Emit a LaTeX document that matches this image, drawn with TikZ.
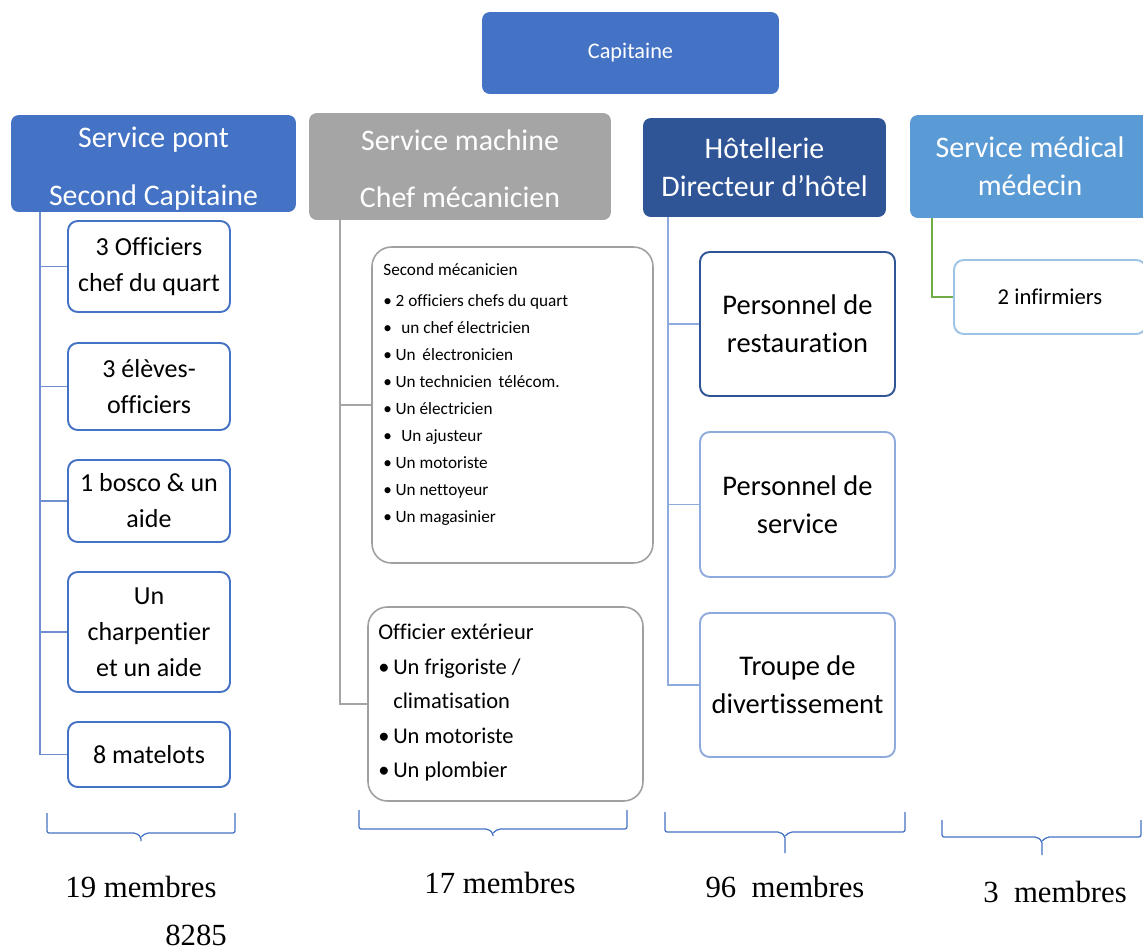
\documentclass[tikz,border=0pt]{standalone}
\usepackage{fontspec}
\setmainfont{Liberation Serif}
\newfontfamily\carl[Ligatures=NoCommon]{Carlito}
\usetikzlibrary{calc}
\definecolor{cBlue}{HTML}{4472C4}
\definecolor{cGray}{HTML}{A5A5A5}
\definecolor{cNavy}{HTML}{2F5597}
\definecolor{cSky}{HTML}{5B9BD5}
\definecolor{cPale}{HTML}{8FAADC}
\definecolor{cPaleSky}{HTML}{9DC3E6}
\definecolor{cGreen}{HTML}{70AD47}
\definecolor{cLink}{HTML}{6F8FD0}
\definecolor{cGrayLine}{HTML}{A0A0A0}
\begin{document}
\begin{tikzpicture}[x=0.02cm,y=-0.02cm,
  hdr/.style={rounded corners=4.5pt, text=white, inner sep=0pt, align=center},
  hdrtext/.style={text=white, inner sep=0pt, align=center},
  leaf/.style={draw, fill=white, line width=1.1pt, rounded corners=5.5pt, inner sep=0pt, align=center},
  listbox/.style={draw=cGrayLine, fill=white, line width=0.9pt, rounded corners=11pt, inner sep=0pt},
  link/.style={line width=1pt},
  brace/.style={draw=cBlue, line width=0.7pt, rounded corners=1.2pt},
  count/.style={font=\fontsize{17.5}{20}\selectfont, inner sep=0pt}
]
\useasboundingbox (0,0) rectangle (1143,951);
\clip (0,0) rectangle (1143,951);

% top of the hierarchy
\node[hdr, fill=cBlue, minimum width=5.94cm, minimum height=1.64cm,
      font=\carl\fontsize{12.7}{15}\selectfont] (cap) at (630.5,53) {Capitaine};

% the four services
\node[hdr, fill=cBlue, minimum width=5.70cm, minimum height=1.94cm] (pont) at (153.5,163.5) {};
\node[hdrtext, font=\carl\fontsize{17}{33}\selectfont] (ponttxt) at ($(pont.center)+(0,5)$)
      {Service pont\\Second Capitaine};
\node[hdr, fill=cGray, minimum width=6.04cm, minimum height=2.14cm] (mach) at (460,166.5) {};
\node[hdrtext, font=\carl\fontsize{17}{32.4}\selectfont] (machtxt) at ($(mach.center)+(0,2)$)
      {Service machine\\Chef mécanicien};
\node[hdr, fill=cNavy, minimum width=4.86cm, minimum height=1.98cm,
      font=\carl\fontsize{17}{21.6}\selectfont] (hotel) at (764.5,167.5)
      {Hôtellerie\\Directeur d’hôtel};
\node[hdr, fill=cSky, minimum width=4.80cm, minimum height=2.06cm,
      font=\carl\fontsize{17}{21.6}\selectfont] (med) at (1030,166.5)
      {Service médical\\médecin};

% deck service
\begin{scope}[every node/.style={leaf, draw=cBlue, minimum width=3.24cm,
      font=\carl\fontsize{14.8}{20.5}\selectfont}]
\node[minimum height=1.82cm] (off) at (149,266.5) {3 Officiers\\chef du quart};
\node[minimum height=1.74cm] (eleve) at (149,386.5) {3 élèves-\\officiers};
\node[minimum height=1.64cm] (bosco) at (149,501) {1 bosco \& un\\aide};
\node[minimum height=2.40cm] (charp) at (149,632) {Un\\charpentier\\et un aide};
\node[minimum height=1.30cm] (mat) at (149,754.5) {8 matelots};
\end{scope}
\coordinate (pontdown) at ($(pont.south west)+(29,0)$);
\draw[link, cLink] (pontdown) |- (mat.west);
\foreach \n in {off,eleve,bosco,charp}
  \draw[link, cLink] (\n.west) -- (\n.west -| pontdown);

% engine service
\node[listbox, minimum width=5.62cm, minimum height=6.32cm] (second) at (512.5,405) {};
\node[anchor=north west, inner sep=0pt, align=left,
      font=\carl\fontsize{9.8}{15.4}\selectfont] (secondtxt) at (383,263)
  {Second mécanicien\\[2.3pt]
   \makebox[7pt][l]{•}2 officiers chefs du quart\\
   \makebox[7pt][l]{•}\,\,un chef électricien\\
   \makebox[7pt][l]{•}Un \,électronicien\\
   \makebox[7pt][l]{•}Un technicien \,télécom.\\
   \makebox[7pt][l]{•}Un électricien\\
   \makebox[7pt][l]{•}\,\,Un ajusteur\\
   \makebox[7pt][l]{•}Un motoriste\\
   \makebox[7pt][l]{•}Un nettoyeur\\
   \makebox[7pt][l]{•}Un magasinier};
\node[listbox, minimum width=5.50cm, minimum height=3.88cm] (ext) at (505.5,704) {};
\node[anchor=north west, inner sep=0pt, align=left,
      font=\carl\fontsize{12.8}{19.6}\selectfont] (exttxt) at (378,624)
  {Officier extérieur\\
   \makebox[8.5pt][l]{•}Un frigoriste /\\
   \hspace*{8.5pt}climatisation\\
   \makebox[8.5pt][l]{•}Un motoriste\\
   \makebox[8.5pt][l]{•}Un plombier};
\coordinate (machdown) at ($(mach.south west)+(31,0)$);
\draw[link, cGray] (machdown) |- (ext.west);
\draw[link, cGray] (second.west) -- (second.west -| machdown);

% hotel service
\begin{scope}[every node/.style={leaf, minimum width=3.9cm,
      font=\carl\fontsize{16.2}{21.6}\selectfont}]
\node[draw=cNavy, minimum height=2.88cm] (resto) at (797.5,324) {Personnel de\\restauration};
\node[draw=cPale, minimum height=2.90cm] (serv) at (797.5,504.5) {Personnel de\\service};
\node[draw=cPale, minimum height=2.88cm] (troupe) at (797.5,685) {Troupe de\\divertissement};
\end{scope}
\coordinate (hoteldown) at ($(hotel.south west)+(25,0)$);
\draw[link, cPale] (hoteldown) |- (troupe.west);
\foreach \n in {resto,serv}
  \draw[link, cPale] (\n.west) -- (\n.west -| hoteldown);

% medical service
\node[leaf, draw=cPaleSky, minimum width=3.84cm, minimum height=1.48cm,
      font=\carl\fontsize{12.9}{15}\selectfont] (inf) at (1050,297) {2 infirmiers};
\coordinate (meddown) at ($(med.south west)+(22,0)$);
\draw[link, cGreen] (meddown) |- (inf.west);

% braces under each service
\draw[brace] (47,813) -- (47,833) -- (136,833) -- (141,837) -- (141,841);
\draw[brace] (141,837) -- (146,833) -- (235,833) -- (235,813);
\draw[brace] (359,810) -- (359,829) -- (488,829) -- (493,833) -- (493,836);
\draw[brace] (493,833) -- (498,829) -- (627,829) -- (627,810);
\draw[brace] (665,812) -- (665,832) -- (780,832) -- (785,836) -- (785,853);
\draw[brace] (785,836) -- (790,832) -- (905,832) -- (905,812);
\draw[brace] (942,820) -- (942,837) -- (1037,837) -- (1042,841) -- (1042,855);
\draw[brace] (1042,841) -- (1047,837) -- (1141,837) -- (1141,820);

% head counts
\node[count] (n1) at (141,887) {19 membres};
\node[count] (n2) at (500,883) {17 membres};
\node[count] (n3) at (785,887) {96\ \ membres};
\node[count] (n4) at (1055,892) {3\ \ membres};
\node[count] (tot) at (196,935) {8285};
\end{tikzpicture}
\end{document}
